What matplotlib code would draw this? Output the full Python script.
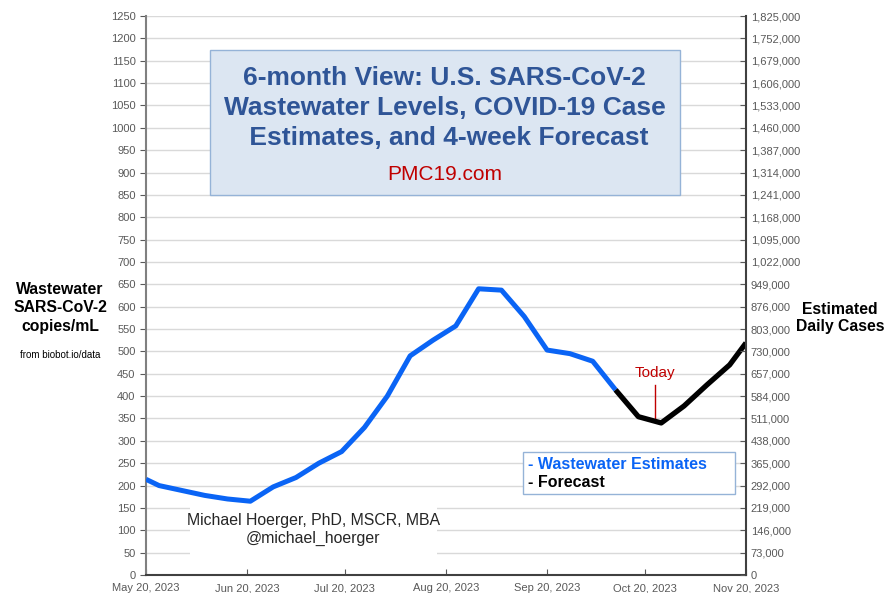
import numpy as np
import pandas as pd
import matplotlib
matplotlib.use("Agg")
import matplotlib.pyplot as plt
import matplotlib.dates as mdates
from matplotlib.patches import Rectangle
from matplotlib.ticker import FuncFormatter

plt.rcParams['font.family'] = ['Liberation Sans', 'DejaVu Sans']

# Dados (cópias/mL)
datas_reais = ["2023-05-20", "2023-05-24", "2023-05-31", "2023-06-07", "2023-06-14",
               "2023-06-21", "2023-06-28", "2023-07-05", "2023-07-12", "2023-07-19",
               "2023-07-26", "2023-08-02", "2023-08-09", "2023-08-16", "2023-08-23",
               "2023-08-30", "2023-09-06", "2023-09-13", "2023-09-20", "2023-09-27",
               "2023-10-04", "2023-10-11"]
valores_reais = [214, 200, 189, 178, 170, 165, 197, 218, 250, 276,
                 330, 400, 490, 525, 557, 640, 637, 578, 503, 495, 478, 414]

datas_previsao = ["2023-10-11", "2023-10-18", "2023-10-25", "2023-11-01",
                  "2023-11-08", "2023-11-15", "2023-11-20"]
valores_previsao = [414, 354, 340, 378, 425, 470, 519]

ticks_x = ["2023-05-20", "2023-06-20", "2023-07-20", "2023-08-20",
           "2023-09-20", "2023-10-20", "2023-11-20"]
ticks_esq = list(range(0, 1251, 50))
ticks_dir = list(range(0, 1825001, 73000))

data_hoje = "2023-10-23"

azul = "#0A64F5"
cinza_txt = "#595959"

fig = plt.figure(figsize=(8.84, 5.93), dpi=100)
ax = fig.add_axes([146 / 884, 1 - 575 / 593, 600 / 884, 559 / 593])

x_reais = pd.to_datetime(datas_reais)
x_prev = pd.to_datetime(datas_previsao)

ax.plot(x_reais, valores_reais, color=azul, lw=3.6, zorder=5, solid_capstyle="butt")
ax.plot(x_prev, valores_previsao, color="black", lw=3.8, zorder=5, solid_capstyle="butt")

ax.set_xlim(pd.Timestamp("2023-05-20"), pd.Timestamp("2023-11-20"))
ax.set_ylim(0, 1250)
ax.set_xticks(pd.to_datetime(ticks_x))
ax.xaxis.set_major_formatter(mdates.DateFormatter("%b %d, %Y"))
ax.set_yticks(ticks_esq)
ax.yaxis.grid(True, color="#D9D9D9", lw=1)
ax.set_axisbelow(True)
ax.tick_params(axis="y", labelsize=8, colors=cinza_txt, length=4, direction="out")
ax.tick_params(axis="x", labelsize=8, colors=cinza_txt, length=4, direction="in", pad=6)
for lado in ["top", "right"]:
    ax.spines[lado].set_visible(False)
ax.spines["left"].set_color("#808080")
ax.spines["left"].set_linewidth(1.5)
ax.spines["bottom"].set_color("#404040")
ax.spines["bottom"].set_linewidth(1.5)

ax2 = ax.twinx()
ax2.set_ylim(0, 1825000)
ax2.set_yticks(ticks_dir)
ax2.yaxis.set_major_formatter(FuncFormatter(lambda v, p: f"{int(v):,}"))
ax2.tick_params(axis="y", labelsize=8, colors=cinza_txt, length=4, direction="in")
for lado in ["top", "left", "bottom"]:
    ax2.spines[lado].set_visible(False)
ax2.spines["right"].set_color("#404040")
ax2.spines["right"].set_linewidth(1.5)

# Caixa do título
ax.add_patch(Rectangle((0.107, 0.680), 0.783, 0.259, transform=ax.transAxes,
                       facecolor="#DCE6F2", edgecolor="#95B3D7", lw=1, zorder=3))
ax.text(0.498, 0.835, "6-month View: U.S. SARS-CoV-2\nWastewater Levels, COVID-19 Case\n Estimates, and 4-week Forecast",
        transform=ax.transAxes, ha="center", va="center", fontsize=19, fontweight="bold",
        color="#2F5597", linespacing=1.32, zorder=4)
ax.text(0.498, 0.716, "PMC19.com", transform=ax.transAxes, ha="center", va="center",
        fontsize=15, color="#C00000", zorder=4)

# Caixa do autor
ax.add_patch(Rectangle((0.073, 0.034), 0.412, 0.091, transform=ax.transAxes,
                       facecolor="white", edgecolor="none", zorder=3))
ax.text(0.279, 0.081, "Michael Hoerger, PhD, MSCR, MBA\n@michael_hoerger",
        transform=ax.transAxes, ha="center", va="center", fontsize=11.4,
        color="#262626", linespacing=1.25, zorder=4)

# Legenda
ax.add_patch(Rectangle((0.628, 0.145), 0.354, 0.075, transform=ax.transAxes,
                       facecolor="white", edgecolor="#95B3D7", lw=1, zorder=3))
ax.text(0.636, 0.198, "- Wastewater Estimates", transform=ax.transAxes, ha="left",
        va="center", fontsize=11.5, fontweight="bold", color=azul, zorder=4)
ax.text(0.636, 0.165, "- Forecast", transform=ax.transAxes, ha="left",
        va="center", fontsize=11.5, fontweight="bold", color="black", zorder=4)

# Hoje
x_hoje = pd.Timestamp(data_hoje)
ax.plot([x_hoje, x_hoje], [345, 425], color="#C00000", lw=1, zorder=4)
ax.text(x_hoje, 452, "Today", ha="center", va="center", fontsize=11, color="#C00000", zorder=4)

# Rótulos dos eixos
fig.text(60 / 884, 1 - 308 / 593, "Wastewater\nSARS-CoV-2\ncopies/mL", ha="center", va="center",
         fontsize=11.3, fontweight="bold", linespacing=1.25)
fig.text(60 / 884, 1 - 355 / 593, "from biobot.io/data", ha="center", va="center", fontsize=7)
fig.text(840 / 884, 1 - 318 / 593, "Estimated\nDaily Cases", ha="center", va="center",
         fontsize=11.3, fontweight="bold", linespacing=1.25)

fig.savefig("out.png", dpi=100)
